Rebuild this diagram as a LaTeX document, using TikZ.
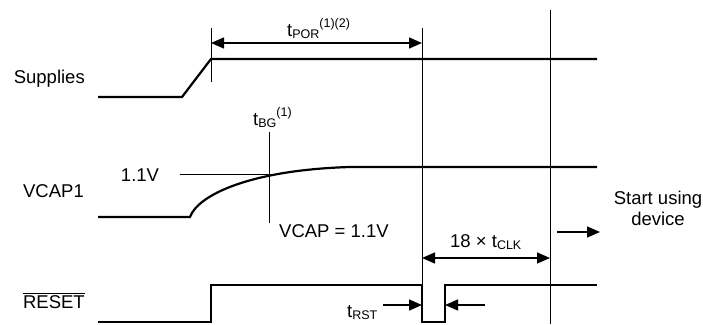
\documentclass[tikz,border=0pt]{standalone}
\usepackage{fontspec}
\setmainfont{Liberation Sans}
\usetikzlibrary{arrows.meta}
\begin{document}
\begin{tikzpicture}[x=1pt,y=-1pt,
  sig/.style={line width=2.2pt},
  thin/.style={line width=0.9pt},
  dim/.style={line width=1.4pt,-{Triangle[length=13pt,width=11pt]}},
  dimb/.style={line width=1.4pt,{Triangle[length=13pt,width=11pt]}-{Triangle[length=13pt,width=11pt]}},
  lbl/.style={inner sep=0pt,font=\fontsize{18.5}{21}\selectfont}]
\newcommand{\smallsz}{\fontsize{12.5}{14}\selectfont}
\useasboundingbox (0,0) rectangle (703,324);
% labels
\node[lbl,anchor=base east] (lsup) at (85,83.5) {Supplies};
\node[lbl,anchor=base east] (lvc) at (84,197) {VCAP1};
\node[lbl,anchor=base east] (lrst) at (85,308) {$\overline{\mbox{RESET}}$};
% coordinates
\coordinate (s0) at (98,97);
\coordinate (s1) at (182,97);
\coordinate (s2) at (211,59);
\coordinate (s3) at (597,59);
\coordinate (v0) at (98,217);
\coordinate (v1) at (190,217);
\coordinate (v2) at (350,167);
\coordinate (v3) at (597,167);
\coordinate (r0) at (98,322);
\coordinate (r1) at (211,322);
\coordinate (r2) at (211,285);
\coordinate (r3) at (422,285);
\coordinate (r4) at (422,322);
\coordinate (r5) at (445,322);
\coordinate (r6) at (445,285);
\coordinate (r7) at (597,285);
% signals
\draw[sig] (s0) -- (s1) -- (s2) -- (s3);
\draw[sig] (v0) -- (v1) .. controls (198,195) and (250,170) .. (v2) -- (v3);
\draw[sig] (r0) -- (r1) -- (r2) -- (r3) -- (r4) -- (r5) -- (r6) -- (r7);
% timing lines
\coordinate (a1) at (211,28);
\coordinate (a2) at (211,82);
\draw[thin] (a1) -- (a2);
\coordinate (b1) at (422,28);
\draw[thin] (b1) -- (r3);
\coordinate (c1) at (550,10);
\coordinate (c2) at (550,324);
\draw[thin] (c1) -- (c2);
\coordinate (d1) at (269,132);
\coordinate (d2) at (269,223);
\draw[thin] (d1) -- (d2);
\coordinate (e1) at (180,174);
\coordinate (e2) at (271,174);
\draw[thin] (e1) -- (e2);
% dimension arrows
\coordinate (p1) at (211,43);
\coordinate (p2) at (422,43);
\draw[dimb] (p1) -- (p2);
\node[lbl,anchor=base west] (tpor) at (287,36) {t\raisebox{-2.5pt}{\smallsz POR}\raisebox{8.5pt}{\smallsz (1)(2)}};
\node[lbl,anchor=base west] (tbg) at (253,125) {t\raisebox{-2.5pt}{\smallsz BG}\raisebox{8.5pt}{\smallsz (1)}};
\node[lbl,anchor=base west] (vcap) at (279,237) {VCAP = 1.1V};
\node[lbl,anchor=base] (v11) at (140,181) {1.1V};
\coordinate (k1) at (422,258);
\coordinate (k2) at (550,258);
\draw[dimb] (k1) -- (k2);
\node[lbl,anchor=base west] (tclk) at (450,247) {18 × t\raisebox{-2.5pt}{\smallsz CLK}};
\coordinate (g1) at (557,232);
\coordinate (g2) at (600,232);
\draw[dim] (g1) -- (g2);
\node[lbl,align=center,anchor=base] (start) at (658,225) {Start using\\device};
\coordinate (q1) at (383,305);
\coordinate (q2) at (485,305);
\coordinate (q1e) at (422,305);
\coordinate (q2e) at (445,305);
\draw[dim] (q1) -- (q1e);
\draw[dim] (q2) -- (q2e);
\node[lbl,anchor=base west] (trst) at (347,317) {t\raisebox{-2.5pt}{\smallsz RST}};
\end{tikzpicture}
\end{document}
